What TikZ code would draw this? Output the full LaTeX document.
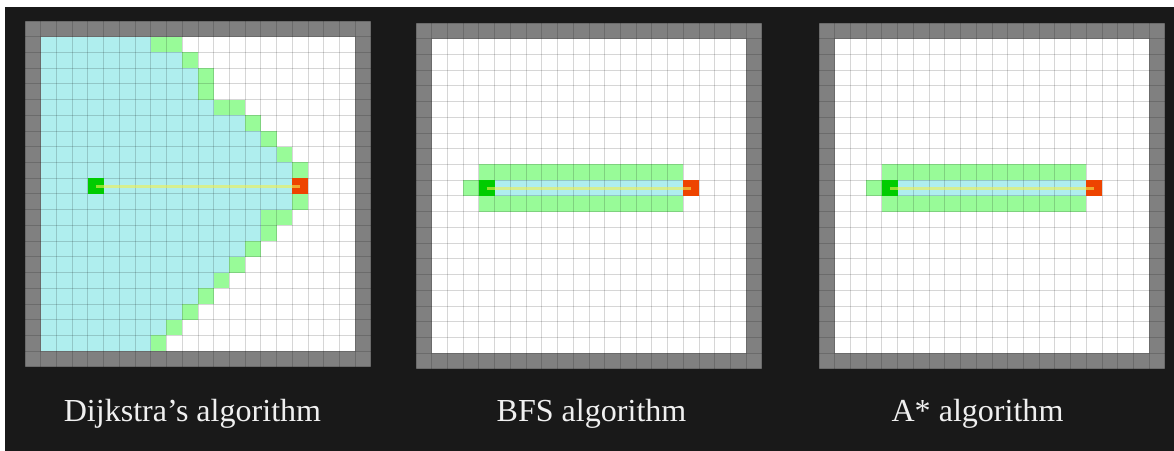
\documentclass[tikz,border=0pt]{standalone}
\usepackage{fontspec}
\setmainfont{Liberation Serif}
\usetikzlibrary{positioning}
\definecolor{nacht}{HTML}{191919}
\definecolor{rand}{HTML}{808080}
\definecolor{besucht}{HTML}{AFEEEE}
\definecolor{front}{HTML}{98FB98}
\definecolor{startgruen}{HTML}{00CC00}
\definecolor{zielrot}{HTML}{EE4400}
\definecolor{pfadgelb}{HTML}{F0F050}

\tikzset{
  gitterlinie/.style={black, opacity=0.16, line width=0.6pt},
  startfeld/.style={fill=startgruen, minimum size=0.393cm, inner sep=0pt},
  zielfeld/.style={fill=zielrot, minimum size=0.393cm, inner sep=0pt},
  pfad/.style={pfadgelb, opacity=0.6, line width=2.2pt},
  titel/.style={text=white!94!black, anchor=base, inner sep=0pt,
    font=\fontsize{22.8}{27}\selectfont}
}

% Rahmen und Raster eines Feldes (22 x 22 Zellen)
\newcommand{\feld}{%
  \fill[rand] (0,0) rectangle (22,22);
  \fill[white] (1,1) rectangle (21,21);}
\newcommand{\gitter}{%
  \foreach \i in {0,...,22}{
    \draw[gitterlinie] (\i,0) -- (\i,22);
    \draw[gitterlinie] (0,\i) -- (22,\i);
  }}
% schmaler Korridor um den Weg (BFS, A*)
\newcommand{\korridor}[1]{%
  \feld
  \fill[front] (4,9) rectangle (17,12);
  \fill[front] (3,10) rectangle (4,11);
  \fill[besucht] (5,10) rectangle (17,11);
  \gitter
  \node[startfeld] (s#1) at (4.5,10.5) {};
  \node[zielfeld] (z#1) at (17.5,10.5) {};
  \draw[pfad] (s#1.center) -- (z#1.center);}

\begin{document}
\begin{tikzpicture}[x=0.025cm, y=-0.025cm]
    \useasboundingbox (0,0) rectangle (1174,451);
    % Hintergrund
    \fill[white] (0,0) rectangle (1174,451);
    \fill[nacht] (5,7) rectangle (1174,451);
    % Dijkstra: breitet sich nach allen Seiten aus
    \begin{scope}[shift={(25,21)}, scale=15.72]
      \feld
      \foreach \r/\w/\g in {0/7/8, 1/9/9, 2/10/10, 3/10/10, 4/11/12, 5/13/13,
          6/14/14, 7/15/15, 8/16/16, 9/16/16, 10/16/16, 11/14/15, 12/14/14,
          13/13/13, 14/12/12, 15/11/11, 16/10/10, 17/9/9, 18/8/8, 19/7/7}{
        \fill[besucht] (1,\r+1) rectangle (1+\w,\r+2);
        \fill[front] (1+\w,\r+1) rectangle (2+\g,\r+2);
      }
      \gitter
      \node[startfeld] (sD) at (4.5,10.5) {};
      \node[zielfeld] (zD) at (17.5,10.5) {};
      \draw[pfad] (sD.center) -- (zD.center);
    \end{scope}
    % BFS
    \begin{scope}[shift={(416,23)}, scale=15.72]
      \korridor{B}
    \end{scope}
    % A*
    \begin{scope}[shift={(819,23)}, scale=15.72]
      \korridor{A}
    \end{scope}
    % Beschriftungen
    \node[titel] (tD) at (192.5,421) {Dijkstra’s algorithm};
    \node[titel] (tB) at (591.5,421) {BFS algorithm};
    \node[titel] (tA) at (977.5,421) {A* algorithm};
\end{tikzpicture}
\end{document}
